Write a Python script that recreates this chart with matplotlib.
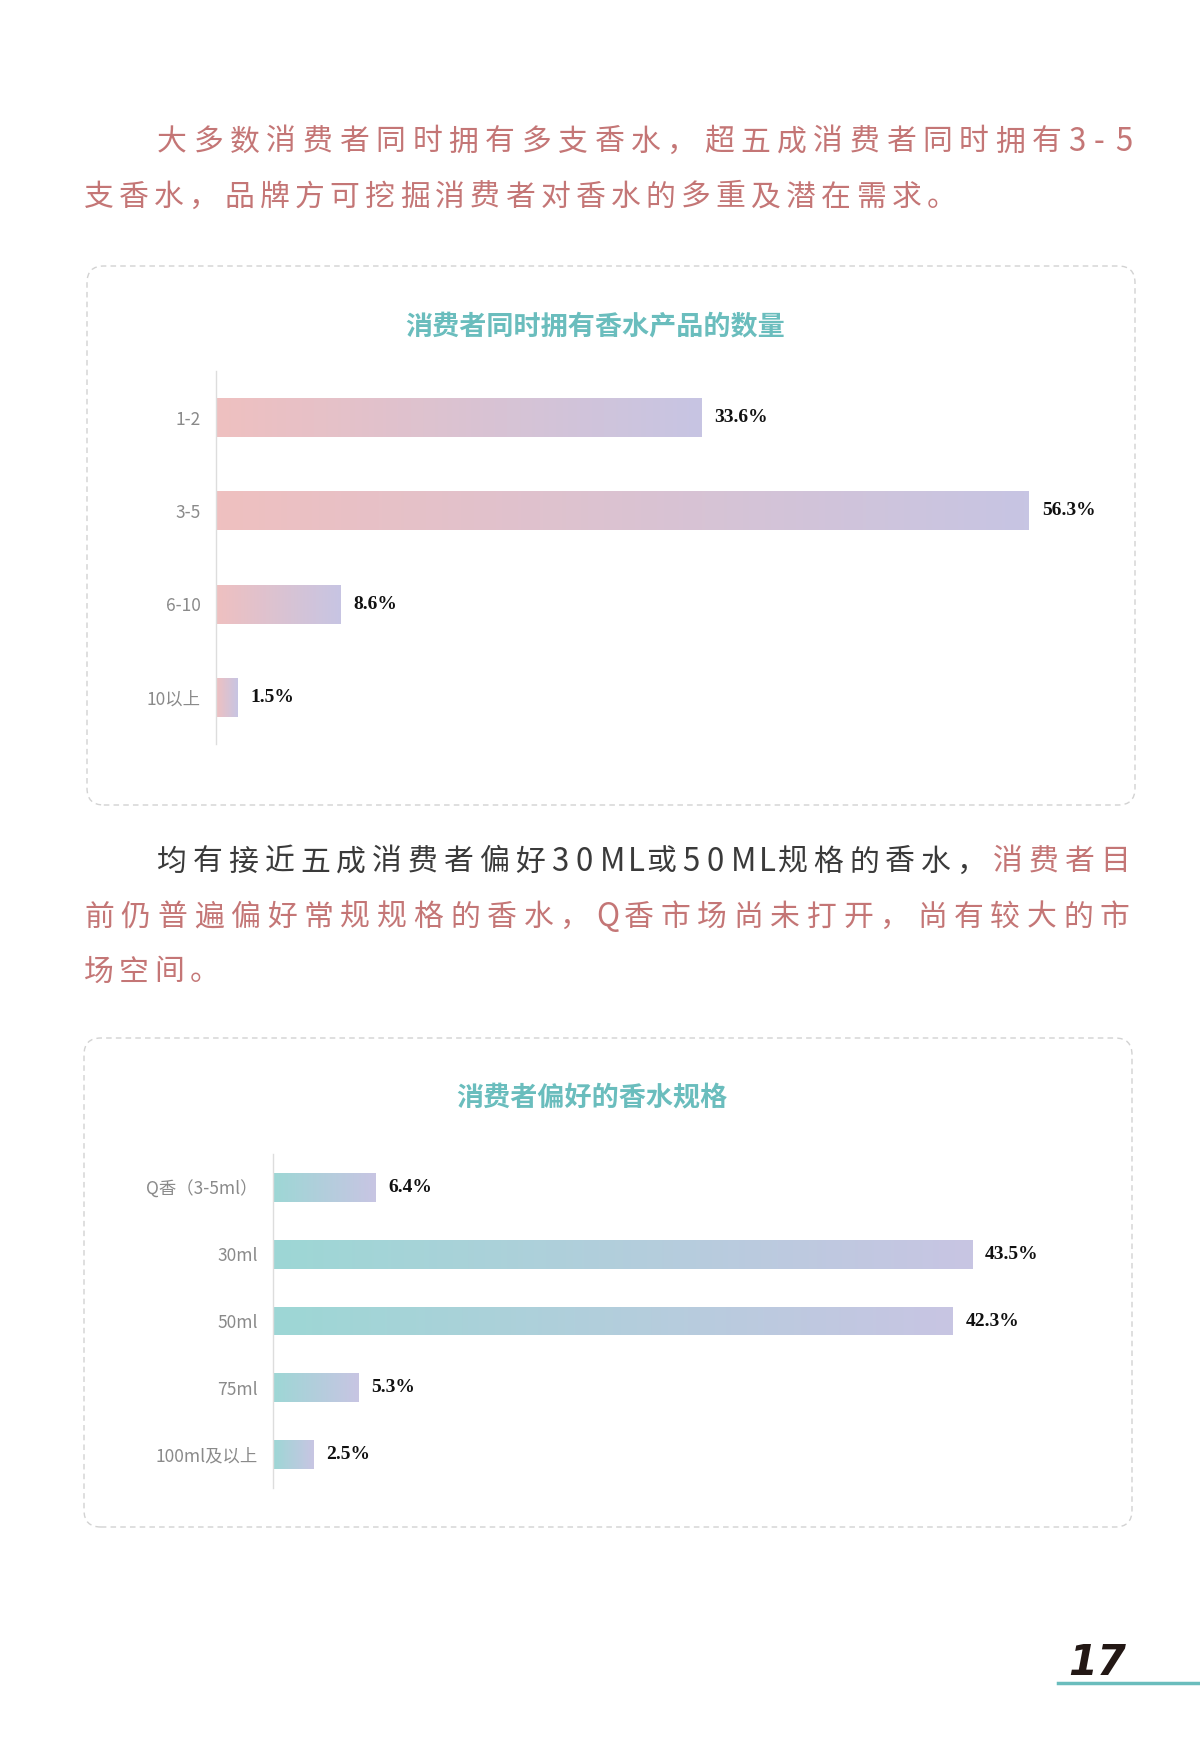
import matplotlib
matplotlib.use("Agg")
import matplotlib.pyplot as plt
import numpy as np
from matplotlib.patches import FancyBboxPatch
from matplotlib.colors import LinearSegmentedColormap

plt.rcParams['font.family'] = ['Noto Sans CJK SC', 'DejaVu Sans']

# ---------------- data ----------------
chart1_title = "消费者同时拥有香水产品的数量"
chart1_cats = ["1-2", "3-5", "6-10", "10以上"]
chart1_vals = [33.6, 56.3, 8.6, 1.5]

chart2_title = "消费者偏好的香水规格"
chart2_cats = ["Q香（3-5ml）", "30ml", "50ml", "75ml", "100ml及以上"]
chart2_vals = [6.4, 43.5, 42.3, 5.3, 2.5]

para1_lines = [
    [("大多数消费者同时拥有多支香水，超五成消费者同时拥有3-5", "rose")],
    [("支香水，品牌方可挖掘消费者对香水的多重及潜在需求。", "rose")],
]
para2_lines = [
    [("均有接近五成消费者偏好30ML或50ML规格的香水，", "dark"), ("消费者目", "rose")],
    [("前仍普遍偏好常规规格的香水，Q香市场尚未打开，尚有较大的市", "rose")],
    [("场空间。", "rose")],
]
page_number = "17"

# ---------------- figure ----------------
W, H = 1200, 1754
fig = plt.figure(figsize=(W / 100, H / 100), dpi=100)
fig.patch.set_facecolor("white")


def fx(x):
    return x / W


def fy(y):
    return 1 - y / H


COL = {"rose": "#c47676", "dark": "#3a3a3a"}
TEAL = "#6abdbd"

ASCII_ADV = {"M": 27.0, "L": 18.5, "Q": 26.0, "-": 21.0}


# ---------------- paragraphs ----------------
def char_adv(ch):
    if ord(ch) < 128:
        return ASCII_ADV.get(ch, 24.0)
    return 35.1


def draw_line(segments, left, y, justify_right=None, fs=21.5):
    chars = []
    for txt, c in segments:
        for ch in txt:
            chars.append((ch, COL[c]))
    advs = [char_adv(ch) for ch, _ in chars]
    k = 1.0
    if justify_right is not None:
        last = chars[-1][0]
        lastw = 17 if ord(last) < 128 else 30
        target = justify_right - lastw - left
        k = target / sum(advs[:-1])
    x = left
    for (ch, c), a in zip(chars, advs):
        size = fs + 1.0 if ord(ch) < 128 else fs
        fig.text(fx(x), fy(y), ch, fontsize=size, color=c, ha="left",
                 va="center", zorder=3)
        x += a * k


draw_line(para1_lines[0], 157, 142, justify_right=1132)
draw_line(para1_lines[1], 84, 197)
draw_line(para2_lines[0], 157, 862, justify_right=1130)
draw_line(para2_lines[1], 84, 917, justify_right=1130)
draw_line(para2_lines[2], 84, 972)

# ---------------- boxes ----------------
for (x0, y0, x1, y1) in [(87, 266, 1135, 805), (84, 1038, 1132, 1527)]:
    box = FancyBboxPatch((fx(x0), fy(y1)), fx(x1 - x0), (y1 - y0) / H,
                         boxstyle="round,pad=0,rounding_size=0.014",
                         transform=fig.transFigure, fill=False,
                         ec="#d2d2d2", lw=1.0, ls=(0, (4, 3)), zorder=2,
                         mutation_aspect=W / H)
    fig.patches.append(box)


# ---------------- charts ----------------
def gradient_chart(cats, vals, ax_rect_px, px_per_unit, c0, c1, bar_h):
    x0, y0, w, h = ax_rect_px
    ax = fig.add_axes([fx(x0), fy(y0 + h), w / W, h / H])
    ax.set_facecolor("none")
    n = len(cats)
    pos = np.arange(n)
    bars = ax.barh(pos, vals, height=bar_h, color="none", zorder=2)
    cmap = LinearSegmentedColormap.from_list("g", [c0, c1])
    grad = np.linspace(0, 1, 256).reshape(1, -1)
    for b, v, p in zip(bars, vals, pos):
        im = ax.imshow(grad, cmap=cmap, aspect="auto",
                       extent=(0, v, p + bar_h / 2, p - bar_h / 2),
                       zorder=2, interpolation="bilinear")
        im.set_clip_path(b)
        ax.text(v + 13 / px_per_unit, p, f"{v}%", va="center", ha="left",
                fontsize=14, fontweight="bold", family="Liberation Serif",
                color="#111111")
    ax.set_xlim(0, w / px_per_unit)
    ax.set_ylim(n - 0.5, -0.5)
    ax.set_yticks(pos)
    ax.set_yticklabels(cats, fontsize=12.5, color="#8a8a8a")
    ax.tick_params(axis="y", length=0, pad=11)
    ax.set_xticks([])
    for s in ["top", "right", "bottom"]:
        ax.spines[s].set_visible(False)
    ax.spines["left"].set_color("#dddddd")
    ax.spines["left"].set_linewidth(1.0)
    return ax


gradient_chart(chart1_cats, chart1_vals, (216, 371, 900, 373), 14.44,
               "#efc0c0", "#c7c5e3", 0.42)
fig.text(fx(595), fy(327), chart1_title, fontsize=19.5, fontweight="bold",
         color=TEAL, ha="center", va="center")

gradient_chart(chart2_cats, chart2_vals, (273, 1154, 840, 334), 16.07,
               "#9dd7d5", "#c8c5e3", 0.43)
fig.text(fx(592), fy(1098), chart2_title, fontsize=19.5, fontweight="bold",
         color=TEAL, ha="center", va="center")

# ---------------- page number ----------------
fig.text(fx(1068), fy(1675), page_number, fontsize=30, fontweight="bold",
         style="italic", family="DejaVu Sans", color="#231815",
         ha="left", va="baseline")
fig.add_artist(plt.Line2D([fx(1058), fx(1200)], [fy(1683), fy(1683)],
                          transform=fig.transFigure, color=TEAL, lw=2.5))

fig.savefig("out.png", dpi=100, facecolor="white")
